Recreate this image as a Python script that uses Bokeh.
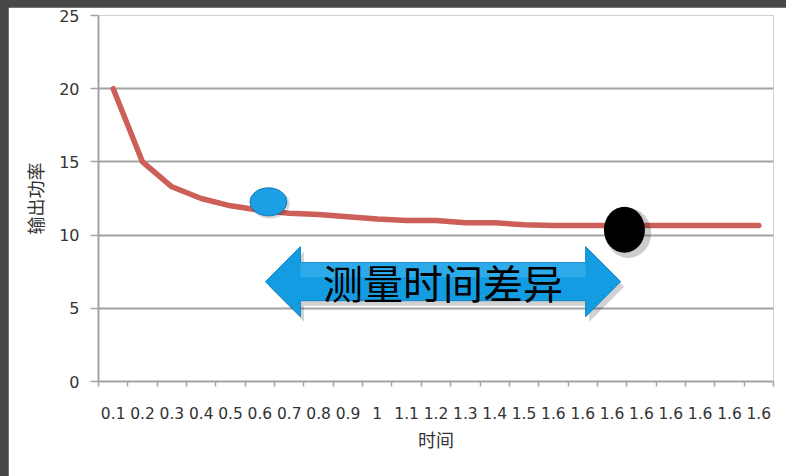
from bokeh.plotting import figure
from bokeh.models import FixedTicker, Range1d, Column
from bokeh.embed import file_html
from bokeh.resources import INLINE
from bokeh.core.properties import value

# ---- data ----
time_labels = ["0.1", "0.2", "0.3", "0.4", "0.5", "0.6", "0.7", "0.8", "0.9", "1",
               "1.1", "1.2", "1.3", "1.4", "1.5",
               "1.6", "1.6", "1.6", "1.6", "1.6", "1.6", "1.6", "1.6"]
power = [20, 15, 13.3, 12.5, 12.0, 11.7, 11.5, 11.4, 11.25, 11.1,
         11.0, 11.0, 10.85, 10.85, 10.7,
         10.65, 10.65, 10.65, 10.65, 10.65, 10.65, 10.65, 10.65]
y_ticks = [0, 5, 10, 15, 20, 25]
x_title = "时间"
y_title = "输出功率"
note_text = "测量时间差异"

n = len(time_labels)
centers = [i + 0.5 for i in range(n)]
bounds = list(range(n + 1))

p = figure(width=778, height=469, x_range=Range1d(0, n), y_range=Range1d(0, 25),
           output_backend="svg", toolbar_location=None,
           min_border_left=90, min_border_right=13, min_border_top=8, min_border_bottom=95,
           margin=(7, 0, 0, 8))
p.outline_line_color = None
p.background_fill_color = "white"
p.border_fill_color = "white"

grid_col = "#a3a3a3"
txt_col = "#333333"
font = "DejaVu Sans"

# x axis
xa = p.xaxis[0]
xa.ticker = FixedTicker(ticks=centers, minor_ticks=bounds)
xa.major_label_overrides = {c: lab for c, lab in zip(centers, time_labels)}
xa.major_tick_out = 0
xa.major_tick_in = 0
xa.minor_tick_out = 5
xa.minor_tick_in = 0
xa.minor_tick_line_color = grid_col
xa.minor_tick_line_width = 1.5
xa.axis_line_color = grid_col
xa.axis_line_width = 2
xa.major_label_standoff = 20
xa.major_label_text_font = font
xa.major_label_text_font_size = "15.5px"
xa.major_label_text_color = txt_col
xa.axis_label = x_title
xa.axis_label_text_font = "Noto Sans CJK SC"
xa.axis_label_text_font_style = "normal"
xa.axis_label_text_font_size = "18px"
xa.axis_label_text_color = txt_col
xa.axis_label_standoff = 4

# y axis
ya = p.yaxis[0]
ya.ticker = FixedTicker(ticks=y_ticks)
ya.minor_tick_line_color = None
ya.major_tick_out = 8
ya.major_tick_in = 0
ya.major_tick_line_color = grid_col
ya.major_tick_line_width = 1.5
ya.axis_line_color = grid_col
ya.axis_line_width = 2
ya.major_label_standoff = 11
ya.major_label_text_font = font
ya.major_label_text_font_size = "16px"
ya.major_label_text_color = txt_col
ya.axis_label = y_title
ya.axis_label_text_font = "Noto Sans CJK SC"
ya.axis_label_text_font_style = "normal"
ya.axis_label_text_font_size = "18px"
ya.axis_label_text_color = txt_col
ya.axis_label_standoff = 8

p.xgrid.grid_line_color = None
p.ygrid.ticker = FixedTicker(ticks=y_ticks)
p.ygrid.grid_line_color = grid_col
p.ygrid.grid_line_width = 2

# data line
p.line(centers, power, line_color="#cc5f57", line_width=5.5, line_join="round", line_cap="round")

# ---- annotations (overlay shapes) ----
# double-headed arrow
ax0, ax1 = 5.69, 17.79       # tips (x data)
head = 1.19                  # head length (x data)
yc, shaft_h, head_h = 6.82, 1.30, 2.39
arrow_x = [ax0, ax0 + head, ax0 + head, ax1 - head, ax1 - head, ax1,
           ax1 - head, ax1 - head, ax0 + head, ax0 + head]
arrow_y = [yc, yc + head_h, yc + shaft_h, yc + shaft_h, yc + head_h, yc,
           yc - head_h, yc - shaft_h, yc - shaft_h, yc - head_h]
p.patch([x + 0.12 for x in arrow_x], [y - 0.35 for y in arrow_y],
        fill_color="black", fill_alpha=0.18, line_color=None)
p.patch(arrow_x, arrow_y, fill_color="#139ce2", line_color="#0b84c6", line_width=1)
p.patch(arrow_x[2:4] + [ax1 - head, ax0 + head],
        [yc + shaft_h, yc + shaft_h, yc + 0.3, yc + 0.3],
        fill_color="#4cbcf2", fill_alpha=0.45, line_color=None)
p.text(x=[(ax0 + ax1) / 2], y=[yc], text=[note_text],
       text_font=value("Noto Sans CJK SC"), text_font_size="40px",
       text_align="center", text_baseline="middle", text_color="black")

# blue ellipse
p.ellipse(x=[5.85], y=[12.15], width=39, height=30, width_units="screen", height_units="screen",
          fill_color="black", fill_alpha=0.15, line_color=None)
p.ellipse(x=[5.79], y=[12.27], width=37, height=28, width_units="screen", height_units="screen",
          fill_color="#1d9fe6", line_color="#1479b8", line_width=1)
# black ellipse
p.ellipse(x=[18.05], y=[10.15], width=46, height=50, width_units="screen", height_units="screen",
          fill_color="black", fill_alpha=0.2, line_color=None)
p.ellipse(x=[17.92], y=[10.36], width=41, height=46, width_units="screen", height_units="screen",
          fill_color="black", line_color=None)

page = Column(p, width=786, height=476, styles={"background-color": "#474747"})
open("out.html", "w").write(file_html(page, INLINE))
